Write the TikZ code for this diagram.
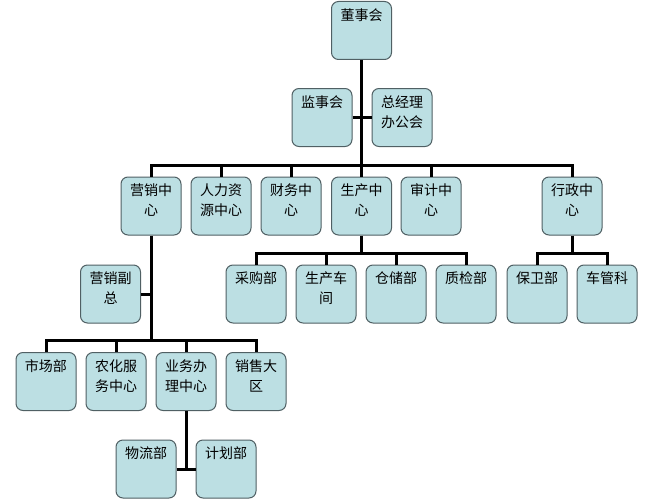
\documentclass[tikz,border=0pt]{standalone}
\usepackage{fontspec}
\setmainfont{Noto Sans CJK SC}
\definecolor{boxfill}{RGB}{188,223,227}
\definecolor{boxline}{RGB}{80,96,100}
\tikzset{
  orgbox/.style={draw=boxline, fill=boxfill, line width=1pt, rounded corners=7pt,
    minimum width=60pt, minimum height=58pt, inner xsep=0pt, inner ysep=7pt},
  conn/.style={line width=3pt, black}
}
\newcommand{\bx}[4]{\node[orgbox] (#1) at (#2,#3) {\parbox[t][44pt][t]{60pt}{\centering\fontsize{14}{20}\selectfont #4}};}
\begin{document}
\begin{tikzpicture}[x=1pt,y=-1pt]
\fill[white] (0,0) rectangle (650,503);
\useasboundingbox (0,0) rectangle (650,503);
\bx{dsh}{361.5}{30.5}{董事会}
\bx{jsh}{322}{117.5}{监事会}
\bx{zjl}{402}{117.5}{总经理\\办公会}
\bx{yx}{151}{206}{营销中\\心}
\bx{rl}{221}{206}{人力资\\源中心}
\bx{cw}{291}{206}{财务中\\心}
\bx{sc}{361.5}{206}{生产中\\心}
\bx{sj}{431}{206}{审计中\\心}
\bx{xz}{572}{206}{行政中\\心}
\bx{yxfz}{110.5}{294}{营销副\\总}
\bx{sch}{46}{381.5}{市场部}
\bx{nh}{116}{381.5}{农化服\\务中心}
\bx{yw}{186}{381.5}{业务办\\理中心}
\bx{xs}{256}{381.5}{销售大\\区}
\bx{wl}{146}{469}{物流部}
\bx{jh}{226}{469}{计划部}
\bx{cg}{256}{294}{采购部}
\bx{scj}{326}{294}{生产车\\间}
\bx{cc}{396}{294}{仓储部}
\bx{zj}{466}{294}{质检部}
\bx{bw}{537}{294}{保卫部}
\bx{cgk}{607}{294}{车管科}
\coordinate (b1) at (361.5,165);
\coordinate (b2) at (151,340);
\coordinate (b3) at (186,469);
\coordinate (b4) at (361.5,253);
\coordinate (b5) at (572,253);
% top
\draw[conn] (dsh.south) -- (b1);
\draw[conn] (jsh.east) -- (zjl.west);
\draw[conn] (yx.north) |- (b1) -| (xz.north);
\draw[conn] (rl.north) -- (rl.north |- b1);
\draw[conn] (cw.north) -- (cw.north |- b1);
\draw[conn] (sc.north) -- (b1);
\draw[conn] (sj.north) -- (sj.north |- b1);
% marketing
\draw[conn] (yx.south) -- (b2);
\draw[conn] (yxfz.east) -- (yxfz.east -| b2);
\draw[conn] (sch.north) |- (b2) -| (xs.north);
\draw[conn] (nh.north) -- (nh.north |- b2);
\draw[conn] (yw.north) -- (yw.north |- b2);
\draw[conn] (yw.south) -- (b3);
\draw[conn] (wl.east) -- (jh.west);
% production
\draw[conn] (sc.south) -- (b4);
\draw[conn] (cg.north) |- (b4) -| (zj.north);
\draw[conn] (scj.north) -- (scj.north |- b4);
\draw[conn] (cc.north) -- (cc.north |- b4);
% admin
\draw[conn] (xz.south) -- (b5);
\draw[conn] (bw.north) |- (b5) -| (cgk.north);
\end{tikzpicture}
\end{document}
